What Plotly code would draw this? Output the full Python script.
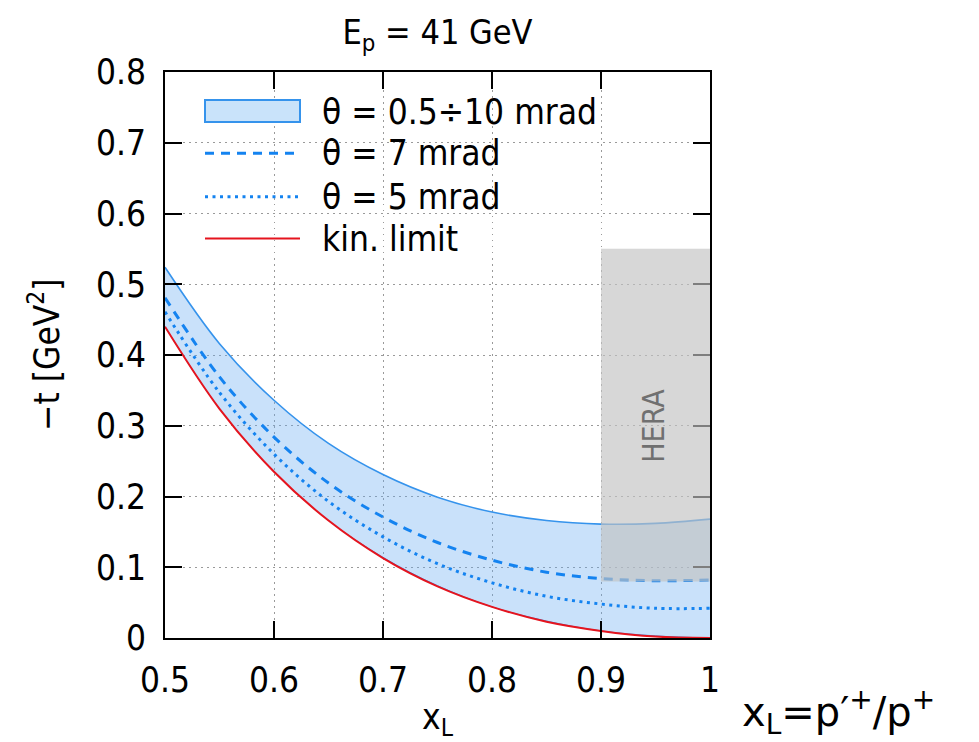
import plotly.graph_objects as go

# x_L grid and -t values [GeV^2] for each curve
x_l = [0.50, 0.55, 0.60, 0.65, 0.70, 0.75, 0.80, 0.85, 0.90, 0.95, 1.00]
t_kin_limit = [0.440, 0.324, 0.235, 0.166, 0.113, 0.073, 0.044, 0.023, 0.010, 0.002, 0.000]
t_theta_05 = [0.440, 0.324, 0.235, 0.166, 0.114, 0.074, 0.044, 0.024, 0.010, 0.003, 0.000]
t_theta_10 = [0.524, 0.416, 0.336, 0.275, 0.231, 0.199, 0.178, 0.166, 0.161, 0.162, 0.168]
t_theta_7 = [0.481, 0.369, 0.284, 0.219, 0.171, 0.135, 0.110, 0.093, 0.084, 0.081, 0.082]
t_theta_5 = [0.461, 0.347, 0.260, 0.193, 0.143, 0.105, 0.078, 0.059, 0.048, 0.042, 0.042]

# HERA acceptance region
hera_x = [0.9, 1.0]
hera_t = [0.08, 0.55]

x_ticks = [0.5, 0.6, 0.7, 0.8, 0.9, 1.0]
x_ticklabels = ["0.5", "0.6", "0.7", "0.8", "0.9", "1"]
y_ticks = [0, 0.1, 0.2, 0.3, 0.4, 0.5, 0.6, 0.7, 0.8]
y_ticklabels = ["0", "0.1", "0.2", "0.3", "0.4", "0.5", "0.6", "0.7", "0.8"]

legend_labels = ["θ = 0.5÷10 mrad", "θ = 7 mrad", "θ = 5 mrad", "kin. limit"]

FONT = "DejaVu Sans Condensed, Liberation Sans, Arial, sans-serif"
BAND_FILL = "rgba(100,170,240,0.35)"
KEY_FILL = "#c9e3fa"
BAND_EDGE = "#3593ec"
BLUE = "#1483f0"
RED = "#e5141e"

fig = go.Figure()

# band between theta = 0.5 and 10 mrad (translucent so the grid shows through)
fig.add_trace(go.Scatter(x=x_l, y=t_theta_05, mode="lines", line=dict(color=BAND_EDGE, width=1, shape="spline"),
                         showlegend=False, hoverinfo="skip"))
fig.add_trace(go.Scatter(x=x_l, y=t_theta_10, mode="lines", fill="tonexty", fillcolor=BAND_FILL,
                         line=dict(color=BAND_EDGE, width=1.6, shape="spline"), showlegend=False))
fig.add_trace(go.Scatter(x=x_l, y=t_theta_7, mode="lines",
                         line=dict(color=BLUE, width=3, dash="9px,7px", shape="spline"), showlegend=False))
fig.add_trace(go.Scatter(x=x_l, y=t_theta_5, mode="lines",
                         line=dict(color=BLUE, width=3, dash="3px,4.5px", shape="spline"), showlegend=False))
fig.add_trace(go.Scatter(x=x_l, y=t_kin_limit, mode="lines",
                         line=dict(color=RED, width=2, shape="spline"), showlegend=False))

shapes = []
# opaque key background (hides the grid behind the key)
shapes.append(dict(type="rect", xref="paper", yref="paper", x0=0, x1=0.809, y0=0.672, y1=1,
                   fillcolor="white", line=dict(width=0), layer="between"))
# HERA region
shapes.append(dict(type="rect", xref="x", yref="y", x0=hera_x[0], x1=hera_x[1], y0=hera_t[0], y1=hera_t[1],
                   fillcolor="rgba(194,194,194,0.65)", line=dict(width=0), layer="above"))

# key samples
kx0, kx1 = 0.0734, 0.2477
row_y = [0.9302, 0.8563, 0.7797, 0.7058]
shapes.append(dict(type="rect", xref="paper", yref="paper", x0=kx0, x1=kx1, y0=0.9117, y1=0.9505,
                   fillcolor=KEY_FILL, line=dict(color=BAND_EDGE, width=2)))
shapes.append(dict(type="line", xref="paper", yref="paper", x0=kx0, x1=kx1, y0=row_y[1], y1=row_y[1],
                   line=dict(color=BLUE, width=3, dash="9px,7px")))
shapes.append(dict(type="line", xref="paper", yref="paper", x0=kx0, x1=kx1, y0=row_y[2], y1=row_y[2],
                   line=dict(color=BLUE, width=3, dash="3px,4.5px")))
shapes.append(dict(type="line", xref="paper", yref="paper", x0=kx0, x1=kx1, y0=row_y[3], y1=row_y[3],
                   line=dict(color=RED, width=2)))

annotations = []
for label, ry in zip(legend_labels, row_y):
    annotations.append(dict(text=label, xref="paper", yref="paper", x=0.2844, y=ry, xanchor="left",
                            yanchor="middle", showarrow=False, font=dict(family=FONT, size=35, color="black")))

annotations.append(dict(text="HERA", xref="x", yref="y", x=0.9486, y=0.30, textangle=-90, showarrow=False,
                        xanchor="center", yanchor="middle", font=dict(family=FONT, size=30, color="#707070")))
# axis titles
annotations.append(dict(text="x<sub>L</sub>", xref="paper", yref="paper", x=0.5, y=-0.187, xanchor="center",
                        yanchor="bottom", showarrow=False, font=dict(family=FONT, size=35, color="black")))
annotations.append(dict(text="−t [GeV<sup>2</sup>]", xref="paper", yref="paper", x=-0.222, y=0.5,
                        textangle=-90, xanchor="center", yanchor="middle", showarrow=False,
                        font=dict(family=FONT, size=35, color="black")))
annotations.append(dict(text="x<sub>L</sub>=p′<sup>+</sup>/p<sup>+</sup>", xref="paper", yref="paper",
                        x=1.055, y=-0.13, xanchor="left", yanchor="middle", showarrow=False,
                        font=dict(family="DejaVu Sans, Verdana, sans-serif", size=40, color="black")))

axis_common = dict(showline=True, linecolor="black", linewidth=2, mirror="ticks", ticks="inside",
                   ticklen=17, tickwidth=1.5, tickcolor="black", showgrid=True, gridcolor="#9a9a9a",
                   gridwidth=1, griddash="1.5px,4.5px", zeroline=False,
                   tickfont=dict(family=FONT, size=35, color="black"))

fig.update_layout(
    width=979, height=742,
    margin=dict(l=165, r=269, t=72, b=104),
    paper_bgcolor="white", plot_bgcolor="white",
    title=dict(text="E<sub>p</sub> = 41 GeV", x=0.5, xanchor="center", y=0.957, yanchor="middle",
               yref="container", xref="paper", font=dict(family=FONT, size=34, color="black")),
    xaxis=dict(range=[0.5, 1.0], tickvals=x_ticks, ticktext=x_ticklabels, ticklabelstandoff=10, **axis_common),
    yaxis=dict(range=[0, 0.8], tickvals=y_ticks, ticktext=y_ticklabels, ticklabelstandoff=10, **axis_common),
    shapes=shapes,
    annotations=annotations,
    showlegend=False,
)

fig.write_html("out.html")
